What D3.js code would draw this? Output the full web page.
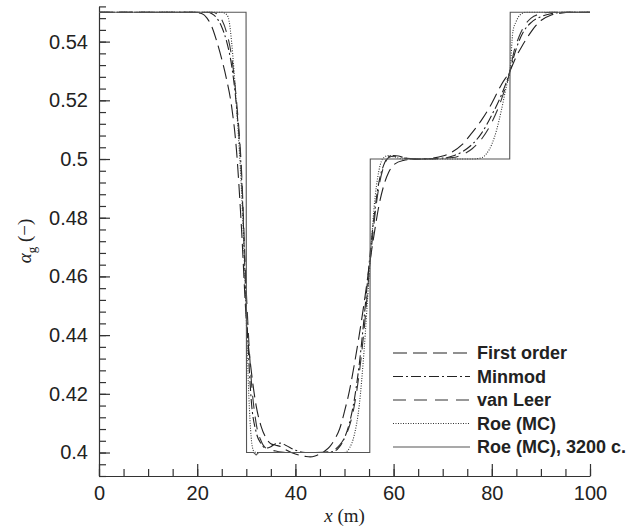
<!DOCTYPE html>
<html>
<head>
<meta charset="utf-8">
<script src="https://cdn.jsdelivr.net/npm/d3@7"></script>
<style>
  body { margin: 0; background: #fff; }
  svg text { fill: #222; }
</style>
</head>
<body>
<svg id="chart" width="629" height="532"></svg>
<script>
// gas void fraction along the pipe
const xFirst = [0, 19, 21, 22, 23, 24, 25, 26, 27, 28, 29, 30, 31, 32, 33, 34, 35, 36, 37, 38, 40, 42, 43, 44, 45, 46, 47, 48, 49, 50, 51, 52, 53, 54, 55, 56, 57, 58, 59, 60, 62, 64, 66, 68, 70, 72, 74, 76, 78, 80, 82, 83.7, 85, 86, 87, 88, 89, 90, 92, 94, 96, 100];
const aFirst = [0.55, 0.55, 0.5495, 0.548, 0.545, 0.540, 0.534, 0.527, 0.518, 0.503, 0.477, 0.445, 0.428, 0.416, 0.409, 0.405, 0.403, 0.4025, 0.402, 0.401, 0.3995, 0.3987, 0.3985, 0.3988, 0.3995, 0.4005, 0.402, 0.4045, 0.408, 0.414, 0.421, 0.43, 0.44, 0.451, 0.463, 0.474, 0.484, 0.491, 0.4955, 0.498, 0.4995, 0.4999, 0.5, 0.5003, 0.501, 0.5025, 0.505, 0.509, 0.5135, 0.519, 0.5255, 0.530, 0.535, 0.538, 0.5408, 0.5433, 0.5455, 0.5472, 0.549, 0.5497, 0.55, 0.55];

const xMinmod = [0, 22, 23, 24, 25, 26, 27, 28, 29, 30, 31, 32, 33, 34, 35, 36, 37, 38, 40, 42, 46, 48, 49, 50, 51, 52, 53, 54, 55, 56, 57, 58, 59, 60, 61, 62, 64, 70, 72, 74, 76, 78, 80, 82, 83.7, 84.5, 85.5, 86.5, 88, 90, 92, 95, 100];
const aMinmod = [0.55, 0.55, 0.5495, 0.548, 0.545, 0.54, 0.532, 0.518, 0.495, 0.45, 0.418, 0.407, 0.403, 0.4015, 0.402, 0.403, 0.4032, 0.4025, 0.4008, 0.4, 0.4, 0.4005, 0.402, 0.405, 0.41, 0.418, 0.43, 0.446, 0.464, 0.48, 0.492, 0.498, 0.5008, 0.5012, 0.501, 0.5005, 0.5, 0.5003, 0.501, 0.5025, 0.505, 0.509, 0.515, 0.522, 0.53, 0.535, 0.54, 0.5435, 0.5465, 0.5485, 0.5495, 0.55, 0.55];

const xLeer = [0, 23, 24, 25, 26, 27, 28, 29, 30, 31, 32, 33, 34, 36, 38, 44, 47, 48, 49, 50, 51, 52, 53, 54, 55, 56, 57, 58, 59, 60, 62, 66, 72, 74, 76, 78, 80, 82, 83.7, 84.5, 85.5, 86.5, 88, 90, 92, 100];
const aLeer = [0.55, 0.55, 0.5495, 0.5475, 0.543, 0.535, 0.52, 0.497, 0.455, 0.425, 0.41, 0.404, 0.4015, 0.4005, 0.4, 0.4, 0.4003, 0.401, 0.4025, 0.405, 0.409, 0.416, 0.427, 0.442, 0.461, 0.478, 0.4905, 0.4975, 0.5005, 0.501, 0.5003, 0.5, 0.5005, 0.5015, 0.5035, 0.507, 0.5125, 0.5205, 0.53, 0.5365, 0.5415, 0.545, 0.548, 0.5495, 0.55, 0.55];

const xRoe = [0, 25, 26, 26.5, 27, 27.5, 28, 28.5, 29, 29.5, 30, 30.5, 31, 31.5, 32, 50, 51, 52, 53, 54, 55, 55.5, 56, 57, 58, 59, 60, 62, 76, 78, 79, 80, 81, 82, 83, 83.7, 84.3, 85, 85.7, 87, 100];
const aRoe = [0.55, 0.55, 0.5492, 0.547, 0.54, 0.53, 0.518, 0.505, 0.49, 0.47, 0.445, 0.42, 0.405, 0.4005, 0.4, 0.4, 0.4015, 0.406, 0.416, 0.435, 0.46, 0.472, 0.483, 0.496, 0.5005, 0.5012, 0.5008, 0.5, 0.5, 0.5005, 0.502, 0.505, 0.51, 0.517, 0.525, 0.53, 0.5435, 0.547, 0.549, 0.55, 0.55];

const xFine = [0, 29.95, 30.05, 31.5, 32, 32.5, 55.15, 55.25, 83.65, 83.75, 100];
const aFine = [0.55, 0.55, 0.40, 0.40, 0.3992, 0.40, 0.40, 0.50, 0.50, 0.55, 0.55];

const seriesNames = ["First order", "Minmod", "van Leer", "Roe (MC)", "Roe (MC), 3200 c."];
const xTicks = [0, 20, 40, 60, 80, 100];
const yTicks = [0.4, 0.42, 0.44, 0.46, 0.48, 0.5, 0.52, 0.54];

const series = [
  { name: seriesNames[0], xs: xFirst, ys: aFirst, dash: "14,6", color: "#222" },
  { name: seriesNames[1], xs: xMinmod, ys: aMinmod, dash: "10,3,2,3", color: "#222" },
  { name: seriesNames[2], xs: xLeer, ys: aLeer, dash: "13,8", color: "#333" },
  { name: seriesNames[3], xs: xRoe, ys: aRoe, dash: "1,1.5", color: "#333" },
  { name: seriesNames[4], xs: xFine, ys: aFine, dash: null, color: "#555" }
];

const svg = d3.select("svg#chart");
const x = d3.scaleLinear().domain([0, 100]).range([99, 590]);
const y = d3.scaleLinear().domain([0.392, 0.552]).range([476, 6.4]);

// minor ticks first, then the labelled ones on top
const minorX = d3.range(0, 100.1, 5);
const minorY = d3.range(0, 41).map(i => 0.392 + i * 0.004);

svg.append("g")
  .attr("transform", "translate(0,476)")
  .call(d3.axisBottom(x).tickValues(minorX).tickSize(-7).tickFormat(""))
  .call(g => g.select(".domain").remove());
svg.append("g")
  .attr("transform", "translate(99,0)")
  .call(d3.axisLeft(y).tickValues(minorY).tickSize(-7).tickFormat(""))
  .call(g => g.select(".domain").remove());

const xAxis = svg.append("g")
  .attr("transform", "translate(0,476)")
  .call(d3.axisBottom(x).tickValues(xTicks).tickSize(-12).tickPadding(10).tickSizeOuter(0));
const yAxis = svg.append("g")
  .attr("transform", "translate(99,0)")
  .call(d3.axisLeft(y).tickValues(yTicks).tickSize(-11).tickPadding(11).tickSizeOuter(0)
    .tickFormat(d => String(+d.toFixed(2))));

svg.selectAll(".tick line, .domain").attr("stroke", "#333").attr("stroke-width", 1.2);
[xAxis, yAxis].forEach(a => a.selectAll("text")
  .style("font-family", "'Liberation Sans', Arial, sans-serif")
  .style("font-size", "20px")
  .attr("fill", "#222"));

// curves
const line = d3.line()
  .x(d => x(d[0]))
  .y(d => y(d[1]));

series.forEach(s => {
  const pts = s.xs.map((v, i) => [v, s.ys[i]]);
  svg.append("path")
    .datum(pts)
    .attr("fill", "none")
    .attr("stroke", s.color)
    .attr("stroke-width", 1.1)
    .attr("stroke-dasharray", s.dash)
    .attr("d", line.curve(s.dash ? d3.curveMonotoneX : d3.curveLinear));
});

// legend
const legend = svg.append("g").attr("transform", "translate(393,353)");
series.forEach((s, i) => {
  const row = legend.append("g").attr("transform", `translate(0,${i * 23.5})`);
  row.append("line")
    .attr("x1", 0).attr("x2", 77)
    .attr("stroke", s.color)
    .attr("stroke-width", 1.1)
    .attr("stroke-dasharray", s.dash);
  row.append("text")
    .attr("x", 84).attr("y", 6)
    .style("font-family", "'Liberation Sans', Arial, sans-serif")
    .style("font-size", "18px")
    .style("font-weight", "bold")
    .text(s.name);
});

// axis titles
const xTitle = svg.append("text")
  .attr("x", x(50)).attr("y", 522)
  .attr("text-anchor", "middle")
  .style("font-family", "'Liberation Serif', 'Times New Roman', serif")
  .style("font-size", "19px");
xTitle.append("tspan").style("font-style", "italic").text("x");
xTitle.append("tspan").text(" (m)");

const yTitle = svg.append("text")
  .attr("transform", "translate(31,241) rotate(-90)")
  .attr("text-anchor", "middle")
  .style("font-family", "'Liberation Serif', 'Times New Roman', serif")
  .style("font-size", "19px");
yTitle.append("tspan").style("font-style", "italic").text("α");
yTitle.append("tspan").attr("dy", 5).style("font-size", "13px").text("g");
yTitle.append("tspan").attr("dy", -5).text(" (−)");
</script>
</body>
</html>
